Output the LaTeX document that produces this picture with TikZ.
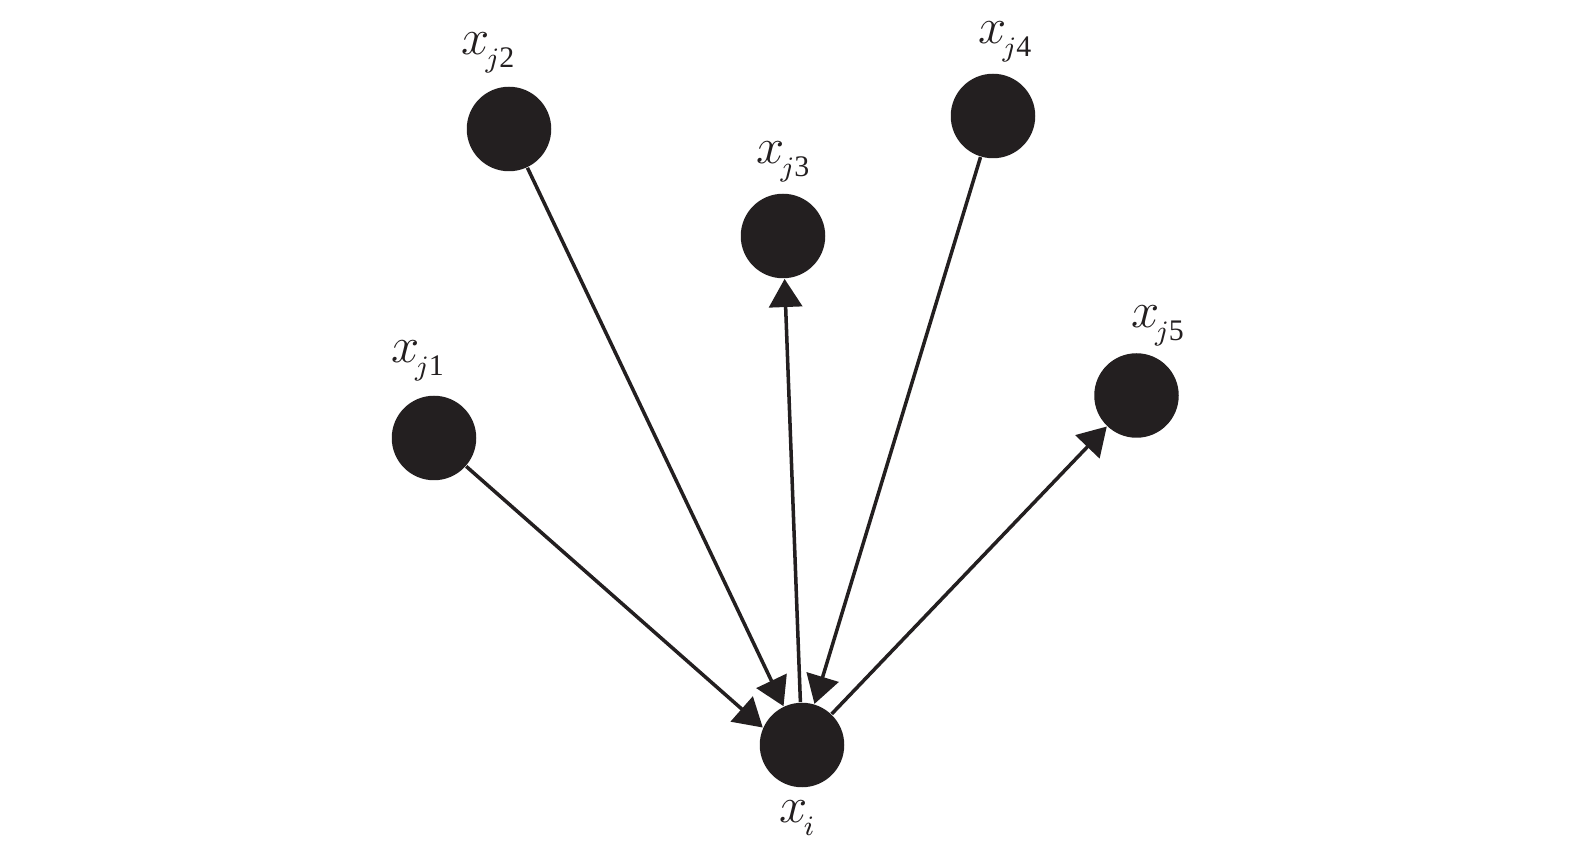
\documentclass[tikz,border=0pt]{standalone}
\usepackage{fontspec}
\setmainfont{Liberation Serif}
\usepackage{tikz}
\usetikzlibrary{positioning,arrows.meta}
\definecolor{ink}{HTML}{231F20}
\newcommand{\xsub}[1]{$x$\kern-1.2pt\raisebox{-3.8pt}{\fontsize{8.5}{9}\selectfont #1}}

\begin{document}
\begin{tikzpicture}[
    dot/.style={circle, fill=ink, minimum size=0.845cm, inner sep=0pt},
    lbl/.style={inner sep=0pt, anchor=base, font=\fontsize{14.5}{16}\selectfont, text=ink},
    edge/.style={draw=ink, line width=1pt, -{Triangle[length=8pt, width=9.4pt]}}
  ]
  \useasboundingbox (0,0) rectangle (15.75,-8.49);

  \node[dot] (j1) at (4.34,-4.38) {};
  \node[dot] (j2) at (5.09,-1.29) {};
  \node[dot] (j3) at (7.83,-2.36) {};
  \node[dot] (j4) at (9.93,-1.16) {};
  \node[dot] (j5) at (11.365,-3.955) {};
  \node[dot] (i) at (8.02,-7.45) {};

  \node[above=0.33cm of j1, lbl, xshift=-0.165cm] (l1) {\xsub{$j$1}};
  \node[above=0.317cm of j2, lbl, xshift=-0.21cm] (l2) {\xsub{$j$2}};
  \node[above=0.30cm of j3, lbl] (l3) {\xsub{$j$3}};
  \node[above=0.30cm of j4, lbl, xshift=0.12cm] (l4) {\xsub{$j$4}};
  \node[above=0.25cm of j5, lbl, xshift=0.21cm] (l5) {\xsub{$j$5}};
  \node[below=0.344cm of i, lbl, xshift=-0.05cm] (li) {\xsub{$i$}};

  \draw[edge] (j1) -- (i.156);
  \draw[edge] (j2) -- (i);
  \draw[edge] (i) -- (j3);
  \draw[edge] (j4) -- (i);
  \draw[edge] (i) -- (j5);
\end{tikzpicture}
\end{document}
